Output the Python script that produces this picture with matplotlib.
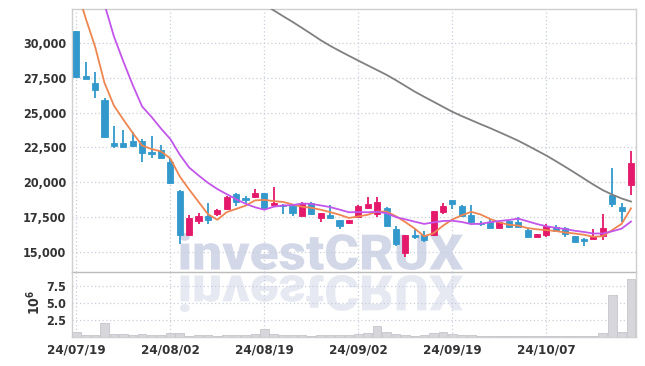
import matplotlib
matplotlib.use("Agg")
import matplotlib.pyplot as plt
import numpy as np
import pandas as pd
from matplotlib.patches import PathPatch
from matplotlib.textpath import TextPath
from matplotlib.font_manager import FontProperties
from matplotlib.transforms import Affine2D
from matplotlib.ticker import FuncFormatter

plt.rcParams["font.family"] = ["DejaVu Sans"]
plt.rcParams["font.stretch"] = "condensed"
plt.rcParams["font.weight"] = "bold"
plt.rcParams["mathtext.fontset"] = "dejavusans"

# trading days (KRX holidays removed)
holidays = ["2024-08-15", "2024-09-16", "2024-09-17", "2024-09-18",
            "2024-10-01", "2024-10-03", "2024-10-09"]
dates = pd.bdate_range("2024-07-19", "2024-10-21").drop(pd.to_datetime(holidays))

opens = [30900, 27650, 27140, 25920, 22820, 22820, 22970, 22970, 22180, 22320,
         21480, 19370, 16220, 17230, 17570, 17690, 18070, 19150, 18840, 18920,
         19220, 18340, 18380, 18290, 17590, 18500, 17450, 17620, 17280, 17090,
         17520, 18170, 17690, 18150, 16630, 14930, 16200, 16200, 16180, 17860,
         18720, 18290, 17640, 17090, 17160, 16730, 17210, 17140, 16560, 16060,
         16200, 16780, 16680, 16130, 15940, 15910, 16150, 19080, 18220, 19780]
highs = [30900, 28630, 27910, 26080, 24030, 23760, 23640, 23110, 23310, 22660,
         21720, 19440, 17640, 17810, 18480, 18070, 19010, 19200, 19030, 19510,
         19250, 19640, 18420, 18410, 18560, 18580, 17800, 18380, 17300, 17300,
         18330, 18920, 18920, 18220, 16850, 16230, 16610, 16510, 17950, 18480,
         18750, 18360, 18340, 17230, 17350, 17180, 17230, 17480, 16680, 16280,
         16990, 16920, 16760, 16150, 16000, 16610, 17710, 21000, 18480, 22250]
lows = [27500, 27400, 26040, 23160, 22440, 22490, 22560, 21480, 21770, 21720,
        19900, 15550, 16150, 16970, 16970, 17590, 18000, 18290, 18500, 18900,
        18150, 18340, 17690, 17590, 17560, 17660, 17120, 17420, 16660, 16990,
        17480, 18050, 17520, 16760, 15410, 14600, 15890, 15720, 16150, 17690,
        18050, 17480, 17040, 16850, 16680, 16700, 16730, 16760, 16050, 16030,
        16040, 16420, 16080, 15630, 15410, 15900, 15840, 18200, 17160, 19080]
closes = [27600, 27450, 26660, 23280, 22630, 22540, 22630, 22130, 22030, 21770,
          19970, 16220, 17430, 17570, 17300, 18000, 18940, 18580, 18720, 19220,
          18170, 18500, 18290, 17810, 18450, 17740, 17790, 17450, 16870, 17280,
          18290, 18430, 18580, 16850, 15580, 16200, 16080, 15860, 17930, 18290,
          18450, 17570, 17120, 16970, 16710, 17160, 16760, 16800, 16080, 16250,
          16850, 16490, 16250, 15720, 15790, 16110, 16710, 18450, 17930, 21380]
# volume, millions of shares
volume = [0.64, 0.25, 0.25, 1.95, 0.39, 0.39, 0.25, 0.39, 0.25, 0.25,
          0.49, 0.49, 0.15, 0.25, 0.20, 0.15, 0.20, 0.25, 0.30, 0.40,
          1.08, 0.39, 0.20, 0.20, 0.25, 0.15, 0.20, 0.25, 0.20, 0.25,
          0.39, 0.49, 1.56, 0.64, 0.36, 0.20, 0.15, 0.20, 0.49, 0.64,
          0.36, 0.25, 0.25, 0.10, 0.10, 0.10, 0.10, 0.10, 0.10, 0.10,
          0.10, 0.10, 0.10, 0.10, 0.10, 0.15, 0.49, 6.06, 0.64, 8.49]
# moving averages as drawn (window includes days before the chart)
ma5 = [34000, 31800, 29760, 27150, 25520, 24510, 23550, 22640, 22390, 22220,
       21710, 20420, 19480, 18590, 17700, 17300, 17850, 18080, 18310, 18690,
       18730, 18640, 18580, 18400, 18240, 18160, 18020, 17850, 17660, 17430,
       17540, 17660, 17890, 17890, 17550, 17130, 16660, 16110, 16330, 16870,
       17320, 17620, 17870, 17680, 17360, 17110, 16940, 16880, 16700, 16610,
       16550, 16490, 16380, 16310, 16220, 16070, 16120, 16560, 17000, 18120]
ma10 = [37000, 35700, 34300, 32800, 30500, 28700, 27000, 25450, 24700, 23870,
        23110, 21990, 21060, 20490, 19960, 19510, 19140, 18780, 18450, 18200,
        18020, 18240, 18330, 18350, 18470, 18440, 18330, 18210, 18030, 17840,
        17850, 17840, 17870, 17770, 17490, 17330, 17160, 17000, 17110, 17210,
        17230, 17140, 16990, 17010, 17120, 17210, 17280, 17380, 17190, 16990,
        16830, 16720, 16630, 16510, 16420, 16310, 16310, 16470, 16660, 17170]
ma_long_start = 20
ma_long = [32790, 32370, 31950, 31540, 31110, 30670, 30220, 29820, 29450, 29100,
           28750, 28410, 28070, 27730, 27340, 26930, 26520, 26150, 25790, 25430,
           25070, 24760, 24470, 24180, 23900, 23600, 23300, 22990, 22640, 22280,
           21920, 21520, 21110, 20690, 20260, 19830, 19430, 19110, 18830, 18610]

UP, DOWN = "#e5196b", "#3399cc"
GRID = "#c9cedd"
SPINE = "#cfcfcf"
TXT = "#333333"

o, h, l, c = map(np.array, (opens, highs, lows, closes))
x = np.arange(len(dates))
col = np.where(c >= o, UP, DOWN)

fig = plt.figure(figsize=(6.45, 3.66), dpi=100)
fig.patch.set_facecolor("white")
ax = fig.add_axes([0.111, 0.256, 0.8746, 0.7186])
axv = fig.add_axes([0.111, 0.080, 0.8746, 0.176], sharex=ax)

for a in (ax, axv):
    a.set_facecolor("none")
    a.grid(True, color=GRID, ls=(0, (1, 2)), lw=0.9)
    a.set_axisbelow(True)
    a.tick_params(length=0, colors=TXT)
    for s in a.spines.values():
        s.set_color(SPINE)
        s.set_linewidth(1)

ax.vlines(x, l, h, colors=col, lw=1.3, zorder=3)
ax.bar(x, np.abs(c - o), bottom=np.minimum(o, c), width=0.65,
       color=col, edgecolor=col, lw=0.6, zorder=4)
ax.plot(x, ma5, color="#ef8550", lw=1.3, zorder=5)
ax.plot(x, ma10, color="#c355ea", lw=1.3, zorder=5)
ax.plot(x[ma_long_start:], ma_long, color="#808080", lw=1.3, zorder=5)

ax.set_ylim(13517, 32447)
ax.set_yticks(np.arange(15000, 30001, 2500))
ax.yaxis.set_major_formatter(FuncFormatter(lambda v, p: f"{v:,.0f}"))
ax.tick_params(axis="y", labelsize=9, pad=4)
ax.tick_params(axis="x", labelbottom=False)
ax.spines["bottom"].set_color("#bbbbbb")

axv.bar(x, volume, width=0.92, color="#d6d6db", edgecolor="#c4c4cc", lw=0.6, zorder=3)
axv.set_ylim(0, 9.45)
axv.set_yticks([2.5, 5.0, 7.5])
axv.yaxis.set_major_formatter(FuncFormatter(lambda v, p: f"{v:.1f}"))
axv.tick_params(axis="y", labelsize=9, pad=4)
axv.spines["top"].set_visible(False)

ticks = x[::10]
axv.set_xticks(ticks)
axv.set_xticklabels([dates[i].strftime("%y/%m/%d") for i in ticks])
axv.tick_params(axis="x", labelsize=9.5, pad=5)
axv.set_xlim(-0.5, 59.5)

fig.text(0.052, 0.175, r"$10^6$", rotation=90, color=TXT, fontsize=10,
         ha="center", va="center")

# investCRUX watermark with mirrored reflection
W, H = 645, 366
fp = FontProperties(family="Roboto", weight=900)
tp = TextPath((0, 0), "investCRUX", size=100, prop=fp)
bb = tp.get_extents()
x0, x1, ytop, ybase = 180, 463, 233, 270
sx = (x1 - x0) / bb.width
sy = (ybase - ytop) / bb.height
main_tr = Affine2D().translate(-bb.x0, -bb.y0).scale(sx, sy).translate(x0, H - ybase)
mirror = 2 * (H - 272.5) - (H - ybase)
refl_tr = Affine2D().translate(-bb.x0, -bb.y0).scale(sx, -sy).translate(x0, mirror)
fig.add_artist(PathPatch(tp, transform=main_tr, facecolor="#d3d8e8", lw=0, zorder=-1))
fig.add_artist(PathPatch(tp, transform=refl_tr, facecolor="#e6e9f2", lw=0, zorder=-1))

fig.savefig("out.png", dpi=100)
